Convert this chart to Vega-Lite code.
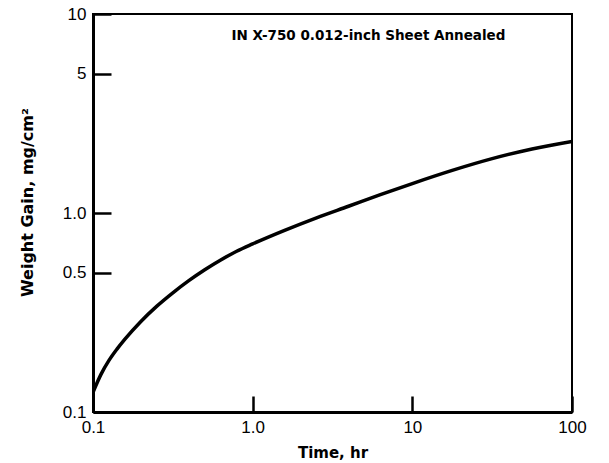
{
  "$schema": "https://vega.github.io/schema/vega-lite/v6.json",
  "width": 479,
  "height": 398,
  "autosize": {"type": "none"},
  "padding": {"left": 93, "top": 14, "right": 37, "bottom": 51},
  "background": "white",
  "config": {
    "font": "Liberation Sans",
    "view": {"stroke": "black", "strokeWidth": 2}
  },
  "title": {
    "text": "IN X-750 0.012-inch Sheet Annealed",
    "frame": "group",
    "anchor": "middle",
    "orient": "top",
    "offset": -37,
    "dx": 36,
    "font": "DejaVu Sans",
    "fontSize": 13.5,
    "fontWeight": "bold",
    "color": "black"
  },
  "data": {
    "values": [
      {"t": 0.1, "w": 0.1256},
      {"t": 0.1122, "w": 0.1545},
      {"t": 0.1259, "w": 0.1816},
      {"t": 0.1413, "w": 0.207},
      {"t": 0.1585, "w": 0.2323},
      {"t": 0.1995, "w": 0.2851},
      {"t": 0.2512, "w": 0.3404},
      {"t": 0.3162, "w": 0.3972},
      {"t": 0.3981, "w": 0.4571},
      {"t": 0.5012, "w": 0.5188},
      {"t": 0.631, "w": 0.5808},
      {"t": 0.7943, "w": 0.6427},
      {"t": 1.0, "w": 0.6998},
      {"t": 1.585, "w": 0.8185},
      {"t": 2.512, "w": 0.9462},
      {"t": 3.981, "w": 1.081},
      {"t": 6.31, "w": 1.236},
      {"t": 10.0, "w": 1.406},
      {"t": 17.78, "w": 1.637},
      {"t": 31.62, "w": 1.875},
      {"t": 56.23, "w": 2.099},
      {"t": 100, "w": 2.291}
    ]
  },
  "mark": {"type": "line", "color": "black", "strokeWidth": 3.5, "interpolate": "monotone", "clip": true},
  "encoding": {
    "x": {
      "field": "t",
      "type": "quantitative",
      "scale": {"type": "log", "domain": [0.1, 100], "nice": false},
      "axis": {
        "title": "Time, hr",
        "values": [0.1, 1, 10, 100],
        "labelExpr": "datum.value == 0.1 ? '0.1' : datum.value == 1 ? '1.0' : datum.value == 10 ? '10' : '100'",
        "labelFlush": false,
        "labelFont": "Liberation Sans",
        "labelFontSize": 17,
        "labelColor": "black",
        "labelPadding": 23,
        "tickSize": -16,
        "tickWidth": 2.5,
        "tickColor": "black",
        "domainColor": "black",
        "domainWidth": 3,
        "grid": false,
        "titleFont": "DejaVu Sans",
        "titleFontSize": 15,
        "titleFontWeight": "bold",
        "titleColor": "black",
        "titlePadding": 10
      }
    },
    "y": {
      "field": "w",
      "type": "quantitative",
      "scale": {"type": "log", "domain": [0.1, 10], "nice": false},
      "axis": {
        "title": "Weight Gain, mg/cm²",
        "values": [0.1, 0.5, 1, 5, 10],
        "labelExpr": "datum.value == 0.1 ? '0.1' : datum.value == 0.5 ? '0.5' : datum.value == 1 ? '1.0' : datum.value == 5 ? '5' : '10'",
        "labelFlush": false,
        "labelFont": "Liberation Sans",
        "labelFontSize": 17,
        "labelColor": "black",
        "labelPadding": 25,
        "tickSize": -18,
        "tickWidth": 2.5,
        "tickColor": "black",
        "domainColor": "black",
        "domainWidth": 3,
        "grid": false,
        "titleFont": "DejaVu Sans",
        "titleFontSize": 16,
        "titleFontWeight": "bold",
        "titleColor": "black",
        "titlePadding": 27,
        "titleY": 188
      }
    }
  }
}
